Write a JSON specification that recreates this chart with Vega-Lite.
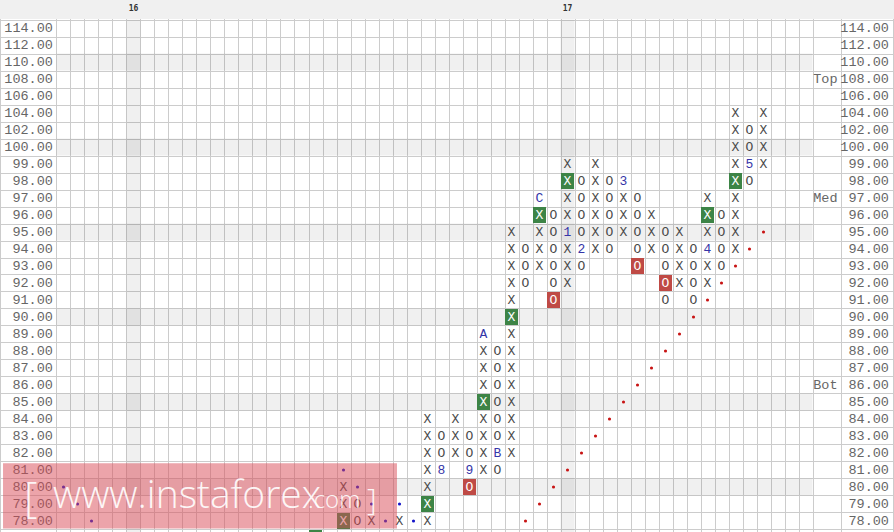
{
  "$schema": "https://vega.github.io/schema/vega-lite/v6.json",
  "width": 894,
  "height": 532,
  "padding": 0,
  "autosize": {"type": "fit", "contains": "padding"},
  "background": "#ffffff",
  "config": {
    "view": {"stroke": null},
    "axis": {"labels": false, "ticks": false, "domain": false, "grid": true, "gridColor": "#cccccc", "gridOpacity": 1, "gridWidth": 1, "tickCount": 500}
  },
  "datasets": {
    "levels": [
      {"r": 0, "p": 114}, {"r": 1, "p": 112}, {"r": 2, "p": 110}, {"r": 3, "p": 108}, {"r": 4, "p": 106},
      {"r": 5, "p": 104}, {"r": 6, "p": 102}, {"r": 7, "p": 100}, {"r": 8, "p": 99}, {"r": 9, "p": 98},
      {"r": 10, "p": 97}, {"r": 11, "p": 96}, {"r": 12, "p": 95}, {"r": 13, "p": 94}, {"r": 14, "p": 93},
      {"r": 15, "p": 92}, {"r": 16, "p": 91}, {"r": 17, "p": 90}, {"r": 18, "p": 89}, {"r": 19, "p": 88},
      {"r": 20, "p": 87}, {"r": 21, "p": 86}, {"r": 22, "p": 85}, {"r": 23, "p": 84}, {"r": 24, "p": 83},
      {"r": 25, "p": 82}, {"r": 26, "p": 81}, {"r": 27, "p": 80}, {"r": 28, "p": 79}, {"r": 29, "p": 78},
      {"r": 30, "p": 77}
    ],
    "hdr": [{"c": 5, "h": "16"}, {"c": 36, "h": "17"}],
    "side": [{"p": 108, "s": "Top"}, {"p": 97, "s": "Med"}, {"p": 86, "s": "Bot"}],
    "boxes": [
      {"c": 18, "p": 77, "t": "X", "k": "up"},
      {"c": 20, "p": 80, "t": "X", "k": "box"}, {"c": 20, "p": 79, "t": "X", "k": "box"}, {"c": 20, "p": 78, "t": "X", "k": "up"},
      {"c": 21, "p": 79, "t": "O", "k": "box"}, {"c": 21, "p": 78, "t": "O", "k": "box"},
      {"c": 22, "p": 78, "t": "X", "k": "box"},
      {"c": 24, "p": 78, "t": "X", "k": "box"},
      {"c": 26, "p": 84, "t": "X", "k": "box"}, {"c": 26, "p": 83, "t": "X", "k": "box"}, {"c": 26, "p": 82, "t": "X", "k": "box"}, {"c": 26, "p": 81, "t": "X", "k": "box"}, {"c": 26, "p": 80, "t": "X", "k": "box"}, {"c": 26, "p": 79, "t": "X", "k": "up"}, {"c": 26, "p": 78, "t": "X", "k": "box"},
      {"c": 27, "p": 83, "t": "O", "k": "box"}, {"c": 27, "p": 82, "t": "O", "k": "box"}, {"c": 27, "p": 81, "t": "8", "k": "note"},
      {"c": 28, "p": 84, "t": "X", "k": "box"}, {"c": 28, "p": 83, "t": "X", "k": "box"}, {"c": 28, "p": 82, "t": "X", "k": "box"},
      {"c": 29, "p": 83, "t": "O", "k": "box"}, {"c": 29, "p": 82, "t": "O", "k": "box"}, {"c": 29, "p": 81, "t": "9", "k": "note"}, {"c": 29, "p": 80, "t": "O", "k": "down"},
      {"c": 30, "p": 89, "t": "A", "k": "note"}, {"c": 30, "p": 88, "t": "X", "k": "box"}, {"c": 30, "p": 87, "t": "X", "k": "box"}, {"c": 30, "p": 86, "t": "X", "k": "box"}, {"c": 30, "p": 85, "t": "X", "k": "up"}, {"c": 30, "p": 84, "t": "X", "k": "box"}, {"c": 30, "p": 83, "t": "X", "k": "box"}, {"c": 30, "p": 82, "t": "X", "k": "box"}, {"c": 30, "p": 81, "t": "X", "k": "box"},
      {"c": 31, "p": 88, "t": "O", "k": "box"}, {"c": 31, "p": 87, "t": "O", "k": "box"}, {"c": 31, "p": 86, "t": "O", "k": "box"}, {"c": 31, "p": 85, "t": "O", "k": "box"}, {"c": 31, "p": 84, "t": "O", "k": "box"}, {"c": 31, "p": 83, "t": "O", "k": "box"}, {"c": 31, "p": 82, "t": "B", "k": "note"}, {"c": 31, "p": 81, "t": "O", "k": "box"},
      {"c": 32, "p": 95, "t": "X", "k": "box"}, {"c": 32, "p": 94, "t": "X", "k": "box"}, {"c": 32, "p": 93, "t": "X", "k": "box"}, {"c": 32, "p": 92, "t": "X", "k": "box"}, {"c": 32, "p": 91, "t": "X", "k": "box"}, {"c": 32, "p": 90, "t": "X", "k": "up"}, {"c": 32, "p": 89, "t": "X", "k": "box"}, {"c": 32, "p": 88, "t": "X", "k": "box"}, {"c": 32, "p": 87, "t": "X", "k": "box"}, {"c": 32, "p": 86, "t": "X", "k": "box"}, {"c": 32, "p": 85, "t": "X", "k": "box"}, {"c": 32, "p": 84, "t": "X", "k": "box"}, {"c": 32, "p": 83, "t": "X", "k": "box"}, {"c": 32, "p": 82, "t": "X", "k": "box"},
      {"c": 33, "p": 94, "t": "O", "k": "box"}, {"c": 33, "p": 93, "t": "O", "k": "box"}, {"c": 33, "p": 92, "t": "O", "k": "box"},
      {"c": 34, "p": 97, "t": "C", "k": "note"}, {"c": 34, "p": 96, "t": "X", "k": "up"}, {"c": 34, "p": 95, "t": "X", "k": "box"}, {"c": 34, "p": 94, "t": "X", "k": "box"}, {"c": 34, "p": 93, "t": "X", "k": "box"},
      {"c": 35, "p": 96, "t": "O", "k": "box"}, {"c": 35, "p": 95, "t": "O", "k": "box"}, {"c": 35, "p": 94, "t": "O", "k": "box"}, {"c": 35, "p": 93, "t": "O", "k": "box"}, {"c": 35, "p": 92, "t": "O", "k": "box"}, {"c": 35, "p": 91, "t": "O", "k": "down"},
      {"c": 36, "p": 99, "t": "X", "k": "box"}, {"c": 36, "p": 98, "t": "X", "k": "up"}, {"c": 36, "p": 97, "t": "X", "k": "box"}, {"c": 36, "p": 96, "t": "X", "k": "box"}, {"c": 36, "p": 95, "t": "1", "k": "note"}, {"c": 36, "p": 94, "t": "X", "k": "box"}, {"c": 36, "p": 93, "t": "X", "k": "box"}, {"c": 36, "p": 92, "t": "X", "k": "box"},
      {"c": 37, "p": 98, "t": "O", "k": "box"}, {"c": 37, "p": 97, "t": "O", "k": "box"}, {"c": 37, "p": 96, "t": "O", "k": "box"}, {"c": 37, "p": 95, "t": "O", "k": "box"}, {"c": 37, "p": 94, "t": "2", "k": "note"}, {"c": 37, "p": 93, "t": "O", "k": "box"},
      {"c": 38, "p": 99, "t": "X", "k": "box"}, {"c": 38, "p": 98, "t": "X", "k": "box"}, {"c": 38, "p": 97, "t": "X", "k": "box"}, {"c": 38, "p": 96, "t": "X", "k": "box"}, {"c": 38, "p": 95, "t": "X", "k": "box"}, {"c": 38, "p": 94, "t": "X", "k": "box"},
      {"c": 39, "p": 98, "t": "O", "k": "box"}, {"c": 39, "p": 97, "t": "O", "k": "box"}, {"c": 39, "p": 96, "t": "O", "k": "box"}, {"c": 39, "p": 95, "t": "O", "k": "box"}, {"c": 39, "p": 94, "t": "O", "k": "box"},
      {"c": 40, "p": 98, "t": "3", "k": "note"}, {"c": 40, "p": 97, "t": "X", "k": "box"}, {"c": 40, "p": 96, "t": "X", "k": "box"}, {"c": 40, "p": 95, "t": "X", "k": "box"},
      {"c": 41, "p": 97, "t": "O", "k": "box"}, {"c": 41, "p": 96, "t": "O", "k": "box"}, {"c": 41, "p": 95, "t": "O", "k": "box"}, {"c": 41, "p": 94, "t": "O", "k": "box"}, {"c": 41, "p": 93, "t": "O", "k": "down"},
      {"c": 42, "p": 96, "t": "X", "k": "box"}, {"c": 42, "p": 95, "t": "X", "k": "box"}, {"c": 42, "p": 94, "t": "X", "k": "box"},
      {"c": 43, "p": 95, "t": "O", "k": "box"}, {"c": 43, "p": 94, "t": "O", "k": "box"}, {"c": 43, "p": 93, "t": "O", "k": "box"}, {"c": 43, "p": 92, "t": "O", "k": "down"}, {"c": 43, "p": 91, "t": "O", "k": "box"},
      {"c": 44, "p": 95, "t": "X", "k": "box"}, {"c": 44, "p": 94, "t": "X", "k": "box"}, {"c": 44, "p": 93, "t": "X", "k": "box"}, {"c": 44, "p": 92, "t": "X", "k": "box"},
      {"c": 45, "p": 94, "t": "O", "k": "box"}, {"c": 45, "p": 93, "t": "O", "k": "box"}, {"c": 45, "p": 92, "t": "O", "k": "box"}, {"c": 45, "p": 91, "t": "O", "k": "box"},
      {"c": 46, "p": 97, "t": "X", "k": "box"}, {"c": 46, "p": 96, "t": "X", "k": "up"}, {"c": 46, "p": 95, "t": "X", "k": "box"}, {"c": 46, "p": 94, "t": "4", "k": "note"}, {"c": 46, "p": 93, "t": "X", "k": "box"}, {"c": 46, "p": 92, "t": "X", "k": "box"},
      {"c": 47, "p": 96, "t": "O", "k": "box"}, {"c": 47, "p": 95, "t": "O", "k": "box"}, {"c": 47, "p": 94, "t": "O", "k": "box"}, {"c": 47, "p": 93, "t": "O", "k": "box"},
      {"c": 48, "p": 104, "t": "X", "k": "box"}, {"c": 48, "p": 102, "t": "X", "k": "box"}, {"c": 48, "p": 100, "t": "X", "k": "box"}, {"c": 48, "p": 99, "t": "X", "k": "box"}, {"c": 48, "p": 98, "t": "X", "k": "up"}, {"c": 48, "p": 97, "t": "X", "k": "box"}, {"c": 48, "p": 96, "t": "X", "k": "box"}, {"c": 48, "p": 95, "t": "X", "k": "box"}, {"c": 48, "p": 94, "t": "X", "k": "box"},
      {"c": 49, "p": 102, "t": "O", "k": "box"}, {"c": 49, "p": 100, "t": "O", "k": "box"}, {"c": 49, "p": 99, "t": "5", "k": "note"}, {"c": 49, "p": 98, "t": "O", "k": "box"},
      {"c": 50, "p": 104, "t": "X", "k": "box"}, {"c": 50, "p": 102, "t": "X", "k": "box"}, {"c": 50, "p": 100, "t": "X", "k": "box"}, {"c": 50, "p": 99, "t": "X", "k": "box"}
    ],
    "dots": [
      {"c": 0, "p": 80, "k": "blue"}, {"c": 1, "p": 79, "k": "blue"}, {"c": 2, "p": 78, "k": "blue"},
      {"c": 20, "p": 81, "k": "blue"}, {"c": 21, "p": 80, "k": "blue"}, {"c": 22, "p": 79, "k": "blue"}, {"c": 23, "p": 78, "k": "blue"},
      {"c": 24, "p": 79, "k": "blue"}, {"c": 25, "p": 78, "k": "blue"},
      {"c": 33, "p": 78, "k": "red"}, {"c": 34, "p": 79, "k": "red"}, {"c": 35, "p": 80, "k": "red"}, {"c": 36, "p": 81, "k": "red"},
      {"c": 37, "p": 82, "k": "red"}, {"c": 38, "p": 83, "k": "red"}, {"c": 39, "p": 84, "k": "red"}, {"c": 40, "p": 85, "k": "red"},
      {"c": 41, "p": 86, "k": "red"}, {"c": 42, "p": 87, "k": "red"}, {"c": 43, "p": 88, "k": "red"}, {"c": 44, "p": 89, "k": "red"},
      {"c": 45, "p": 90, "k": "red"}, {"c": 46, "p": 91, "k": "red"}, {"c": 47, "p": 92, "k": "red"}, {"c": 48, "p": 93, "k": "red"},
      {"c": 49, "p": 94, "k": "red"}, {"c": 50, "p": 95, "k": "red"}
    ]
  },
  "layer": [
    {
      "data": {"name": "levels"},
      "transform": [{"filter": {"field": "p", "oneOf": [110, 100, 95, 90, 85, 80]}}],
      "mark": {"type": "rule", "color": "#000000", "opacity": 0.06, "strokeWidth": 17, "strokeCap": "butt", "clip": true},
      "encoding": {
        "x": {"datum": -0.5, "type": "quantitative",
              "scale": {"domain": [-4.5357, 59.3214], "nice": false, "zero": false},
              "axis": {"title": null, "grid": true, "tickCount": 500, "values": [-4.5, -0.5, 0.5, 1.5, 2.5, 3.5, 4.5, 5.5, 6.5, 7.5, 8.5, 9.5, 10.5, 11.5, 12.5, 13.5, 14.5, 15.5, 16.5, 17.5, 18.5, 19.5, 20.5, 21.5, 22.5, 23.5, 24.5, 25.5, 26.5, 27.5, 28.5, 29.5, 30.5, 31.5, 32.5, 33.5, 34.5, 35.5, 36.5, 37.5, 38.5, 39.5, 40.5, 41.5, 42.5, 43.5, 44.5, 45.5, 46.5, 47.5, 48.5, 49.5, 50.5, 51.5, 52.5, 53.5, 55.5, 59.25]}},
        "x2": {"datum": 53.5},
        "y": {"field": "r", "type": "quantitative", "title": null,
              "scale": {"domain": [-1.6471, 29.6471], "reverse": true, "nice": false, "zero": false},
              "axis": {"title": null, "grid": true, "tickCount": 500, "values": [-0.5, 0.5, 1.5, 2.5, 3.5, 4.5, 5.5, 6.5, 7.5, 8.5, 9.5, 10.5, 11.5, 12.5, 13.5, 14.5, 15.5, 16.5, 17.5, 18.5, 19.5, 20.5, 21.5, 22.5, 23.5, 24.5, 25.5, 26.5, 27.5, 28.5, 29.5]}}
      }
    },
    {
      "data": {"name": "hdr"},
      "mark": {"type": "rule", "color": "#000000", "opacity": 0.06, "strokeWidth": 14, "strokeCap": "butt", "clip": true},
      "encoding": {
        "x": {"field": "c", "type": "quantitative", "title": null},
        "y": {"datum": -0.5, "type": "quantitative"},
        "y2": {"datum": 29.6471}
      }
    },
    {
      "data": {"values": [{}]},
      "mark": {"type": "rect", "color": "#f0f0f0", "clip": true},
      "encoding": {
        "x": {"datum": -4.5357, "type": "quantitative"},
        "x2": {"datum": 59.3214},
        "y": {"datum": -1.6471, "type": "quantitative"},
        "y2": {"datum": -0.53}
      }
    },
    {
      "data": {"name": "hdr"},
      "mark": {"type": "text", "font": "DejaVu Sans Mono", "fontWeight": "bold", "fontSize": 8, "color": "#333333", "baseline": "middle", "align": "center", "clip": true},
      "encoding": {
        "x": {"field": "c", "type": "quantitative", "title": null},
        "y": {"datum": -1.11, "type": "quantitative"},
        "text": {"field": "h"}
      }
    },
    {
      "data": {"name": "levels"},
      "transform": [{"filter": "datum.p >= 78"}],
      "mark": {"type": "text", "font": "Liberation Mono", "fontSize": 13.5, "color": "#666666", "baseline": "middle", "align": "right", "clip": true},
      "encoding": {
        "x": {"datum": -0.757, "type": "quantitative"},
        "y": {"field": "r", "type": "quantitative", "title": null},
        "text": {"field": "p", "type": "quantitative", "format": ".2f"}
      }
    },
    {
      "data": {"name": "levels"},
      "transform": [{"filter": "datum.p >= 78"}],
      "mark": {"type": "text", "font": "Liberation Mono", "fontSize": 13.5, "color": "#666666", "baseline": "middle", "align": "right", "clip": true},
      "encoding": {
        "x": {"datum": 58.96, "type": "quantitative"},
        "y": {"field": "r", "type": "quantitative", "title": null},
        "text": {"field": "p", "type": "quantitative", "format": ".2f"}
      }
    },
    {
      "data": {"name": "side"},
      "transform": [{"lookup": "p", "from": {"data": {"name": "levels"}, "key": "p", "fields": ["r"]}}],
      "mark": {"type": "text", "font": "Liberation Mono", "fontSize": 13.5, "color": "#666666", "baseline": "middle", "align": "left", "clip": true},
      "encoding": {
        "x": {"datum": 53.55, "type": "quantitative"},
        "y": {"field": "r", "type": "quantitative", "title": null},
        "text": {"field": "s"}
      }
    },
    {
      "data": {"name": "boxes"},
      "transform": [
        {"filter": {"field": "k", "equal": "up"}},
        {"lookup": "p", "from": {"data": {"name": "levels"}, "key": "p", "fields": ["r"]}}
      ],
      "mark": {"type": "point", "shape": "M-0.8125,-1H0.8125V1H-0.8125Z", "size": 256, "filled": true, "color": "#3d8446", "opacity": 1, "strokeWidth": 0, "clip": true},
      "encoding": {
        "x": {"field": "c", "type": "quantitative", "title": null},
        "y": {"field": "r", "type": "quantitative", "title": null}
      }
    },
    {
      "data": {"name": "boxes"},
      "transform": [
        {"filter": {"field": "k", "equal": "down"}},
        {"lookup": "p", "from": {"data": {"name": "levels"}, "key": "p", "fields": ["r"]}}
      ],
      "mark": {"type": "point", "shape": "M-0.8125,-1H0.8125V1H-0.8125Z", "size": 256, "filled": true, "color": "#bf4a45", "opacity": 1, "strokeWidth": 0, "clip": true},
      "encoding": {
        "x": {"field": "c", "type": "quantitative", "title": null},
        "y": {"field": "r", "type": "quantitative", "title": null}
      }
    },
    {
      "data": {"name": "boxes"},
      "transform": [
        {"filter": {"field": "k", "equal": "box"}},
        {"lookup": "p", "from": {"data": {"name": "levels"}, "key": "p", "fields": ["r"]}}
      ],
      "mark": {"type": "text", "font": "Liberation Mono", "fontSize": 13, "color": "#4a4a4a", "baseline": "middle", "align": "center", "clip": true},
      "encoding": {
        "x": {"field": "c", "type": "quantitative", "title": null},
        "y": {"field": "r", "type": "quantitative", "title": null},
        "text": {"field": "t"}
      }
    },
    {
      "data": {"name": "boxes"},
      "transform": [
        {"filter": {"field": "k", "oneOf": ["up", "down"]}},
        {"filter": "datum.p >= 78"},
        {"lookup": "p", "from": {"data": {"name": "levels"}, "key": "p", "fields": ["r"]}}
      ],
      "mark": {"type": "text", "font": "Liberation Mono", "fontSize": 13, "color": "#ffffff", "baseline": "middle", "align": "center", "clip": true},
      "encoding": {
        "x": {"field": "c", "type": "quantitative", "title": null},
        "y": {"field": "r", "type": "quantitative", "title": null},
        "text": {"field": "t"}
      }
    },
    {
      "data": {"name": "boxes"},
      "transform": [
        {"filter": {"field": "k", "equal": "note"}},
        {"lookup": "p", "from": {"data": {"name": "levels"}, "key": "p", "fields": ["r"]}}
      ],
      "mark": {"type": "text", "font": "Liberation Mono", "fontSize": 13, "color": "#3535a8", "baseline": "middle", "align": "center", "clip": true},
      "encoding": {
        "x": {"field": "c", "type": "quantitative", "title": null},
        "y": {"field": "r", "type": "quantitative", "title": null},
        "text": {"field": "t"}
      }
    },
    {
      "data": {"name": "dots"},
      "transform": [
        {"filter": {"field": "k", "equal": "red"}},
        {"lookup": "p", "from": {"data": {"name": "levels"}, "key": "p", "fields": ["r"]}}
      ],
      "mark": {"type": "point", "shape": "circle", "size": 10, "filled": true, "color": "#c81414", "opacity": 1, "clip": true},
      "encoding": {
        "x": {"field": "c", "type": "quantitative", "title": null},
        "y": {"field": "r", "type": "quantitative", "title": null}
      }
    },
    {
      "data": {"name": "dots"},
      "transform": [
        {"filter": {"field": "k", "equal": "blue"}},
        {"lookup": "p", "from": {"data": {"name": "levels"}, "key": "p", "fields": ["r"]}}
      ],
      "mark": {"type": "point", "shape": "circle", "size": 10, "filled": true, "color": "#1414c8", "opacity": 1, "clip": true},
      "encoding": {
        "x": {"field": "c", "type": "quantitative", "title": null},
        "y": {"field": "r", "type": "quantitative", "title": null}
      }
    },
    {
      "data": {"values": [{}]},
      "mark": {"type": "rect", "color": "#d94955", "opacity": 0.5, "clip": true},
      "encoding": {
        "x": {"datum": -4.32, "type": "quantitative"},
        "x2": {"datum": 23.82},
        "y": {"datum": 25.61, "type": "quantitative"},
        "y2": {"datum": 29.44}
      }
    },
    {
      "data": {"values": [{}]},
      "mark": {"type": "text", "text": "[", "font": "Open Sans", "fontWeight": 300, "fontSize": 42, "color": "#ffffff", "opacity": 0.9, "baseline": "alphabetic", "align": "left", "clip": true},
      "encoding": {"x": {"datum": -2.82, "type": "quantitative"}, "y": {"datum": 28.47, "type": "quantitative"}}
    },
    {
      "data": {"values": [{}]},
      "mark": {"type": "text", "text": "www.instaforex", "font": "Open Sans", "fontWeight": 300, "fontSize": 39, "color": "#ffffff", "opacity": 0.9, "baseline": "alphabetic", "align": "left", "clip": true},
      "encoding": {"x": {"datum": -0.75, "type": "quantitative"}, "y": {"datum": 28.24, "type": "quantitative"}}
    },
    {
      "data": {"values": [{}]},
      "mark": {"type": "text", "text": ".com", "font": "Open Sans", "fontWeight": 300, "fontSize": 24, "color": "#ffffff", "opacity": 0.9, "baseline": "alphabetic", "align": "left", "clip": true},
      "encoding": {"x": {"datum": 17.46, "type": "quantitative"}, "y": {"datum": 28.24, "type": "quantitative"}}
    },
    {
      "data": {"values": [{}]},
      "mark": {"type": "text", "text": "]", "font": "Open Sans", "fontWeight": 300, "fontSize": 30, "color": "#ffffff", "opacity": 0.9, "baseline": "alphabetic", "align": "left", "clip": true},
      "encoding": {"x": {"datum": 21.68, "type": "quantitative"}, "y": {"datum": 28.35, "type": "quantitative"}}
    }
  ]
}
